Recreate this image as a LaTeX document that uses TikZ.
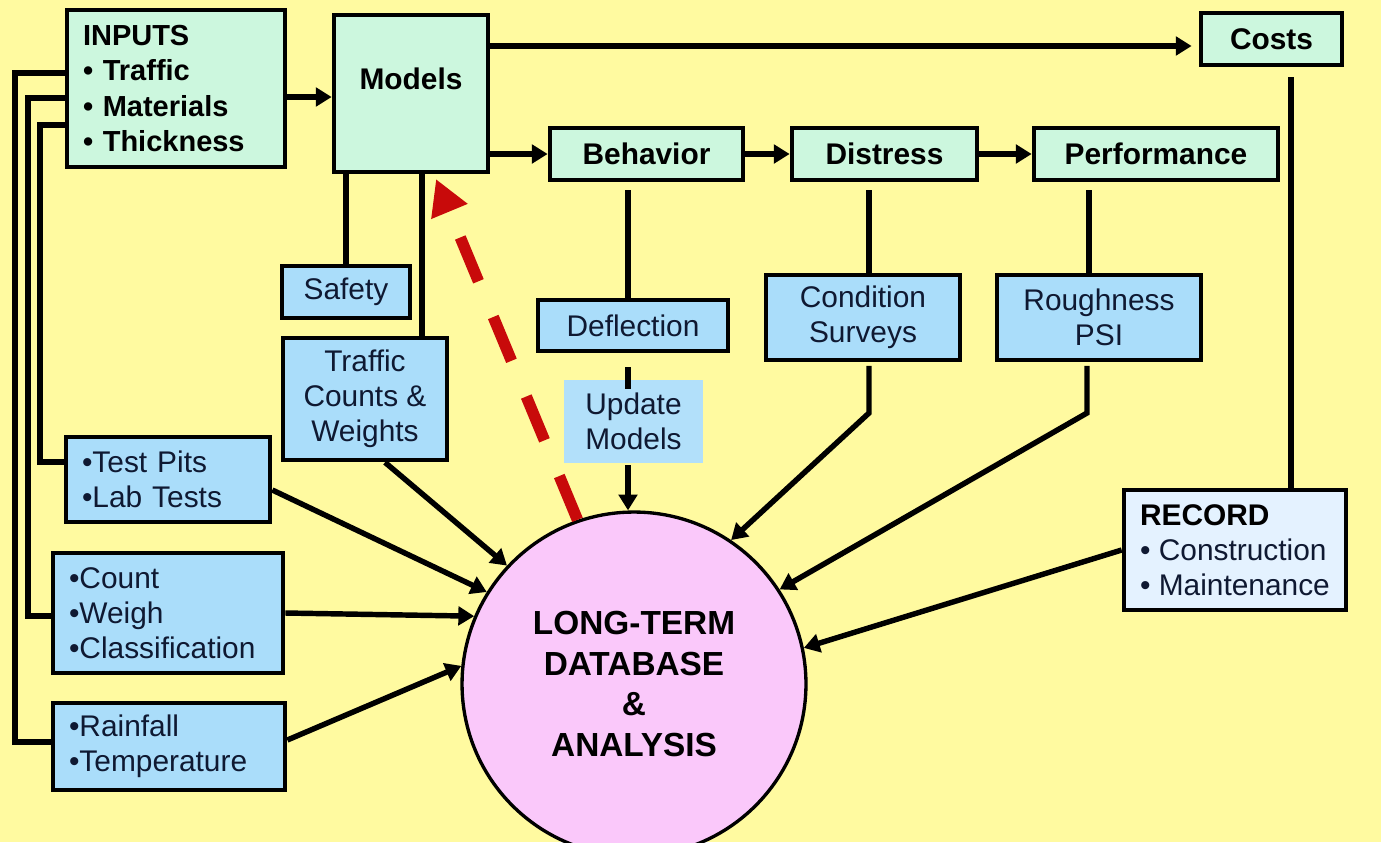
\documentclass[tikz,border=0pt]{standalone}
\usepackage{fontspec}
\setmainfont{Liberation Sans}
\usetikzlibrary{arrows.meta}
\definecolor{bgyellow}{RGB}{255,250,160}
\definecolor{mint}{RGB}{204,247,222}
\definecolor{skyb}{RGB}{170,221,250}
\definecolor{updfill}{RGB}{178,224,250}
\definecolor{recfill}{RGB}{228,242,255}
\definecolor{dbpink}{RGB}{250,200,250}
\definecolor{navy}{RGB}{15,25,50}
\definecolor{darkred}{RGB}{200,10,10}
\begin{document}
\begin{tikzpicture}[x=0.02cm,y=-0.02cm,
  box/.style={draw=black, line width=2.7pt, inner sep=0pt, text=black},
  grn/.style={box, fill=mint, font=\bfseries\fontsize{17}{20}\selectfont},
  blu/.style={box, fill=skyb, font=\fontsize{17}{20}\selectfont, text=navy, align=center},
  lst/.style={blu, align=left, inner xsep=0.32cm},
  wire/.style={line width=3.1pt},
  arr/.style={wire, -{Triangle[length=9pt,width=10.5pt]}},
  feedback/.style={draw=darkred, line width=6.5pt, dash pattern=on 27pt off 22pt,
    -{Triangle[length=20pt,width=21pt]}},
]
\useasboundingbox (0,0) rectangle (1381,842);
\clip (0,0) rectangle (1381,842);
\fill[bgyellow] (0,0) rectangle (1381,842);

% top row
\node[grn, font=\bfseries\fontsize{16.5}{20}\selectfont, minimum width=4.36cm, minimum height=3.14cm,
      text width=3.72cm, inner xsep=0.32cm, align=left] (inputs) at (176,88.5)
  {INPUTS\\•~Traffic\\•~Materials\\•~Thickness};
\node[grn, minimum width=3.08cm, minimum height=3.14cm] (models) at (411,93.5) {};
\node[font=\bfseries\fontsize{17}{20}\selectfont] (modelstxt) at (411,79) {Models};
\node[grn, minimum width=2.82cm, minimum height=1.04cm] (costs) at (1271.5,39) {Costs};
\node[grn, minimum width=3.86cm, minimum height=1.04cm] (behavior) at (646.5,154) {Behavior};
\node[grn, minimum width=3.70cm, minimum height=1.04cm] (distress) at (884.5,154) {Distress};
\node[grn, minimum width=4.88cm, minimum height=1.04cm] (performance) at (1156,154) {Performance};

% measurement boxes
\node[blu, minimum width=2.56cm, minimum height=1.04cm] (safety) at (346,292) {Safety};
\node[blu, minimum width=3.28cm, minimum height=2.44cm] (traffic) at (365,399) {Traffic\\Counts \&\\Weights};
\node[blu, minimum width=3.80cm, minimum height=1.02cm] (deflection) at (633,325.5) {Deflection};
\node[blu, draw=none, fill=updfill, minimum width=2.78cm, minimum height=1.66cm] (update) at (633.5,421.5) {Update\\Models};
\node[blu, minimum width=3.88cm, minimum height=1.70cm] (condition) at (863,317.5) {Condition\\Surveys};
\node[blu, minimum width=4.08cm, minimum height=1.70cm] (roughness) at (1099,317.5) {Roughness\\PSI};

% data collection boxes
\node[lst, minimum width=4.08cm, minimum height=1.70cm, text width=3.44cm] (testpits) at (168,479.5) {•Test~Pits\\•Lab~Tests};
\node[lst, minimum width=4.60cm, minimum height=2.40cm, text width=3.96cm] (count) at (168,613) {•Count\\•Weigh\\•Classification};
\node[lst, minimum width=4.64cm, minimum height=1.74cm, text width=4.00cm] (rain) at (169,746.5) {•Rainfall\\•Temperature};
\node[blu, align=left, fill=recfill, minimum width=4.44cm, minimum height=2.40cm] (record) at (1235,550)
  {\textcolor{black}{\bfseries RECORD}\\•~Construction\\•~Maintenance};

% database
\node[draw=black, line width=1.9pt, fill=dbpink, circle, minimum size=6.88cm, inner sep=0pt,
      align=center, font=\bfseries\fontsize{19}{23}\selectfont] (db) at (634,684)
  {LONG-TERM\\DATABASE\\\&\\ANALYSIS};

% flow along the top
\draw[arr] (inputs.east |- 0,97) -- (models.west |- 0,97);
\draw[arr, shorten >=4pt] (models.east |- 0,46) -- (costs.west |- 0,46);
\draw[arr] (models.east |- behavior.west) -- (behavior.west);
\draw[arr] (behavior.east) -- (distress.west);
\draw[arr] (distress.east) -- (performance.west);

% links down to the measurements
\draw[wire] (models.south -| safety.north) -- (safety.north);
\draw[wire] (models.south -| 422,0) -- (traffic.north -| 422,0);
\draw[wire, shorten <=4.5pt] (behavior.south -| 628,0) -- (deflection.north -| 628,0);
\coordinate (updin) at (628,389);
\draw[wire, shorten <=8pt] (deflection.south -| 628,0) -- (updin);
\draw[arr] (update.south -| 628,0) -- (628,0 |- db.north);
\draw[wire, shorten <=4.5pt] (distress.south -| 869,0) -- (condition.north -| 869,0);
\draw[wire, shorten <=4.5pt] (performance.south -| 1089,0) -- (roughness.north -| 1089,0);
\draw[wire, shorten <=5.5pt] (costs.south -| 1291,0) -- (record.north -| 1291,0);

% into the database
\coordinate (cbend) at (869,413);
\coordinate (rbend) at (1087,413);
\draw[arr, shorten <=2pt] (condition.south -| 869,0) -- (cbend) -- (db.56);
\draw[arr, shorten <=2pt] (roughness.south -| 1087,0) -- (rbend) -- (db.33);
\draw[arr] (record.west) -- (db.12);
\draw[arr] (testpits.east |- 0,490) -- (db.148);
\draw[arr] (traffic.south -| 385,0) -- (db.137);
\draw[arr] (count.east) -- (db.157);
\draw[arr] (rain.east |- 0,740) -- (db.174.5);

% input feeds on the left
\draw[wire] (inputs.west |- 0,73) -- (15,73) |- (rain.west |- 0,742);
\draw[wire] (inputs.west |- 0,98) -- (28,98) |- (count.west |- 0,616);
\draw[wire] (inputs.west |- 0,125) -- (40,125) |- (testpits.west |- 0,462);

% feedback to the models
\coordinate (redtip) at (436,179);
\draw[feedback] (db.109.5) -- (redtip);
\end{tikzpicture}
\end{document}
